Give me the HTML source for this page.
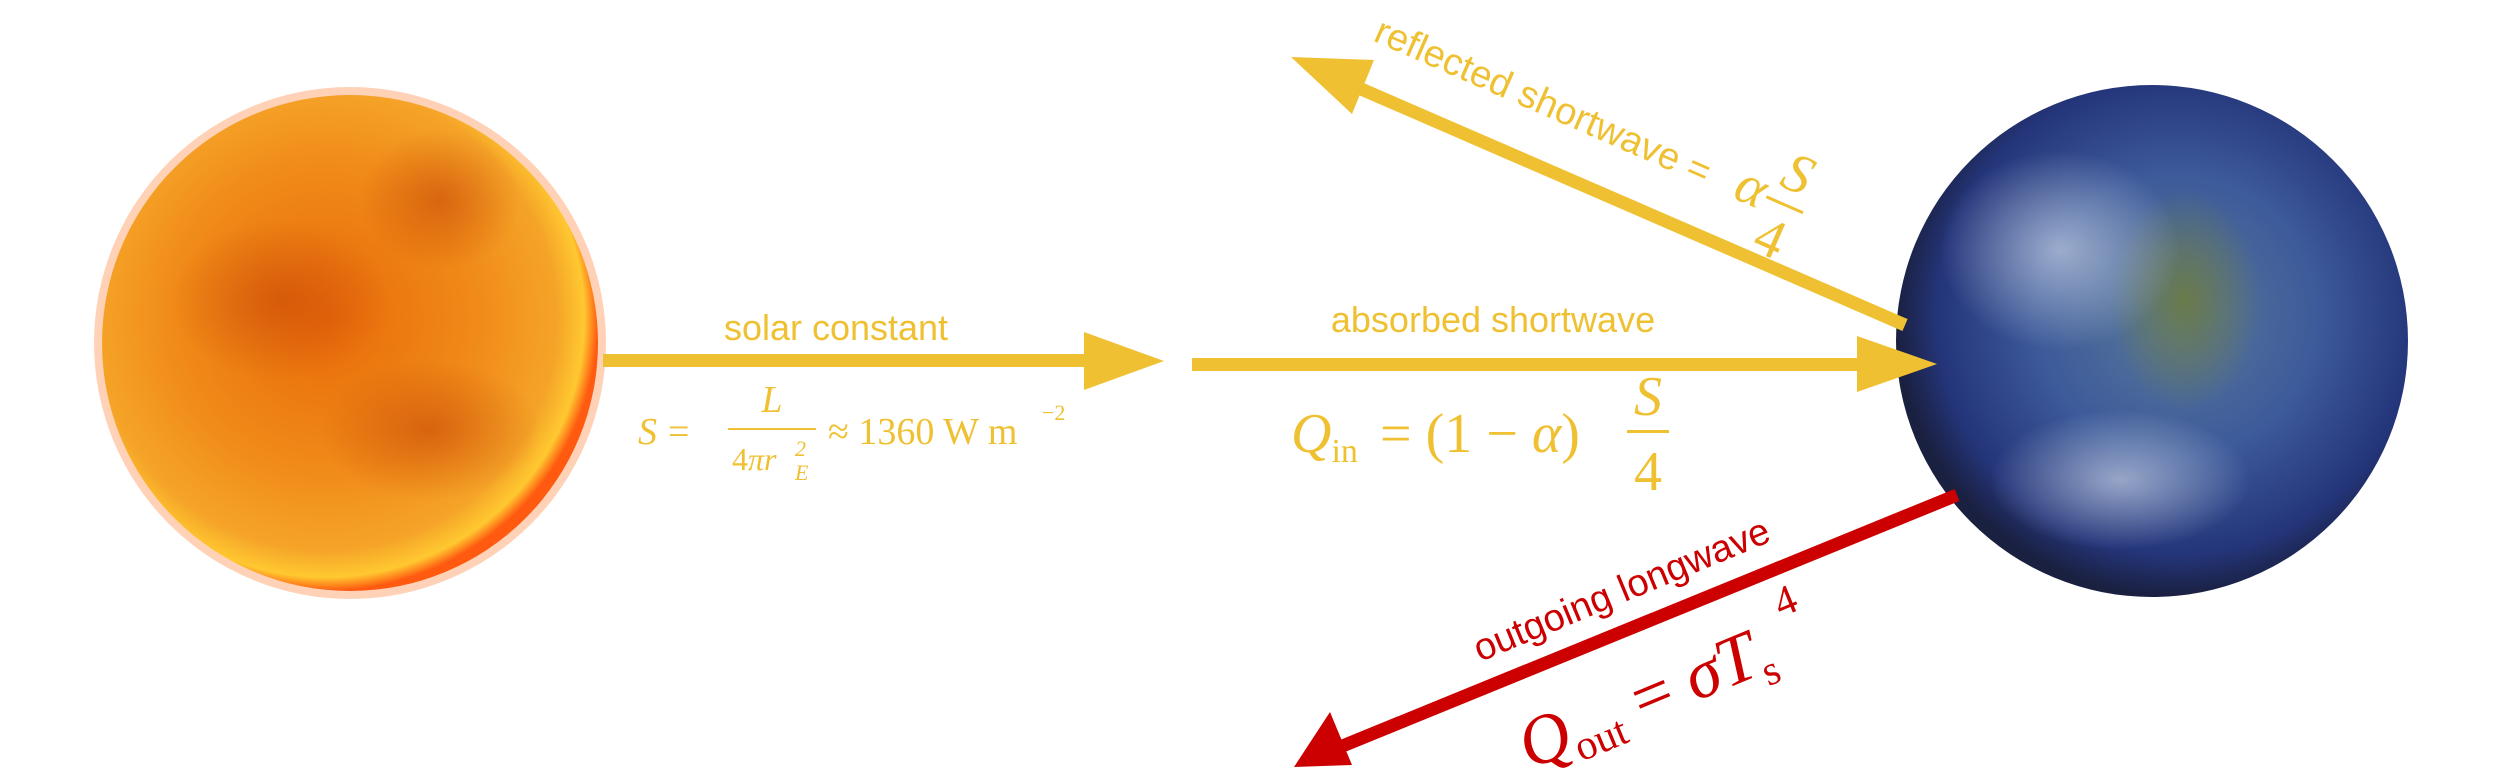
<!DOCTYPE html>
<html><head><meta charset="utf-8"><style>
html,body{margin:0;padding:0;background:#fff}
svg{display:block}
.s{font-family:"Liberation Sans",sans-serif}
.m{font-family:"Liberation Serif",serif;font-style:italic}
.r{font-family:"Liberation Serif",serif}
</style></head><body>
<svg width="2500" height="784" viewBox="0 0 2500 784">
<defs>
<radialGradient id="sunG" cx="45%" cy="45%" r="55%">
<stop offset="0" stop-color="#e86a0a"/><stop offset="0.55" stop-color="#f08a18"/><stop offset="0.85" stop-color="#f5a428"/><stop offset="0.95" stop-color="#ffc830"/><stop offset="1" stop-color="#ff5a10"/>
</radialGradient>
<radialGradient id="earthG" cx="55%" cy="45%" r="55%">
<stop offset="0" stop-color="#5a7a9a"/><stop offset="0.5" stop-color="#3d5a9a"/><stop offset="0.85" stop-color="#24357a"/><stop offset="1" stop-color="#1a2040"/>
</radialGradient>
<radialGradient id="land" cx="50%" cy="50%" r="50%">
<stop offset="0" stop-color="#6a7a4a"/><stop offset="1" stop-color="#6a7a4a" stop-opacity="0"/>
</radialGradient>
<radialGradient id="spot" cx="50%" cy="50%" r="50%">
<stop offset="0" stop-color="#c84a08" stop-opacity="0.6"/><stop offset="1" stop-color="#c84a08" stop-opacity="0"/>
</radialGradient>
<radialGradient id="cloud" cx="50%" cy="50%" r="50%">
<stop offset="0" stop-color="#e8eef6" stop-opacity="0.55"/><stop offset="1" stop-color="#e8eef6" stop-opacity="0"/>
</radialGradient>
</defs>
<g>
<circle cx="350" cy="343" r="256" fill="#ff6a10" opacity="0.3"/>
<circle cx="350" cy="343" r="248" fill="url(#sunG)"/>
<ellipse cx="280" cy="300" rx="110" ry="80" fill="url(#spot)"/>
<ellipse cx="430" cy="430" rx="110" ry="70" fill="url(#spot)"/>
<ellipse cx="440" cy="200" rx="80" ry="70" fill="url(#spot)"/>
</g>
<g>
<circle cx="2152" cy="341" r="256" fill="url(#earthG)"/>
<ellipse cx="2185" cy="300" rx="75" ry="110" fill="url(#land)"/>
<ellipse cx="2060" cy="250" rx="120" ry="100" fill="url(#cloud)"/>
<ellipse cx="2120" cy="480" rx="130" ry="70" fill="url(#cloud)"/>
</g>
<g fill="#efc132" stroke="none">
<g>
<rect x="603" y="354" width="485" height="13"/>
<polygon points="1084,332 1164,361 1084,390"/>
</g>
<g>
<rect x="1192" y="358" width="670" height="13"/>
<polygon points="1857,336 1937,364 1857,392"/>
</g>
<g>
<line x1="1905" y1="325" x2="1345" y2="82" stroke="#efc132" stroke-width="13"/>
<polygon points="1291,57 1374,60 1352,114" />
</g>
</g>
<g>
<line x1="1957" y1="495" x2="1340" y2="747" stroke="#cc0000" stroke-width="13"/>
<polygon points="1294,767 1330,712 1352,765" fill="#cc0000"/>
</g>
<g fill="#efc132">
<text class="s" x="836" y="340" font-size="36" text-anchor="middle">solar constant</text>
<text class="s" x="1493" y="332" font-size="36" text-anchor="middle">absorbed shortwave</text>
<g font-size="38">
<text class="m" x="638" y="444">S</text><text class="r" x="668" y="444">=</text>
<text class="m" x="772" y="412" text-anchor="middle">L</text>
<rect x="728" y="428" width="88" height="2"/>
<text class="r" x="732" y="470" font-size="32">4<tspan class="m">πr</tspan></text>
<text class="m" x="795" y="456" font-size="22">2</text><text class="m" x="795" y="480" font-size="22">E</text>
<text class="r" x="828" y="444">≈ 1360 W m</text><text class="r" x="1042" y="420" font-size="22">−2</text>
</g>
<g font-size="56">
<text class="m" x="1291" y="452">Q<tspan font-size="34" font-style="normal" dy="10">in</tspan></text>
<text class="r" x="1380" y="452">= (1 − <tspan font-style="italic">α</tspan>)</text>
<text class="m" x="1648" y="415" text-anchor="middle">S</text>
<rect x="1627" y="430" width="42" height="3"/>
<text class="r" x="1648" y="490" text-anchor="middle">4</text>
</g>
<g transform="translate(1380,22) rotate(23.6)">
<text class="s" x="0" y="20" font-size="38">reflected shortwave =</text>
<text class="m" x="392" y="20" font-size="56">α</text>
<text class="m" x="444" y="-10" font-size="56" text-anchor="middle">S</text>
<rect x="424" y="4" width="40" height="3"/>
<text class="r" x="444" y="60" font-size="56" text-anchor="middle">4</text>
</g>
</g>
<g fill="#cc0000">
<g transform="translate(1480,662) rotate(-22.5)">
<text class="s" x="0" y="0" font-size="38">outgoing longwave</text>
</g>
<g transform="translate(1530,770) rotate(-22.5)">
<text class="m" x="0" y="0" font-size="70">Q<tspan font-size="42" font-style="normal" dy="12">out</tspan><tspan dy="-12" font-style="normal"> = </tspan>σT<tspan font-size="42" font-style="normal" dy="14">s</tspan></text>
<text class="r" x="290" y="-45" font-size="42">4</text>
</g>
</g>
</svg>
</body></html>
